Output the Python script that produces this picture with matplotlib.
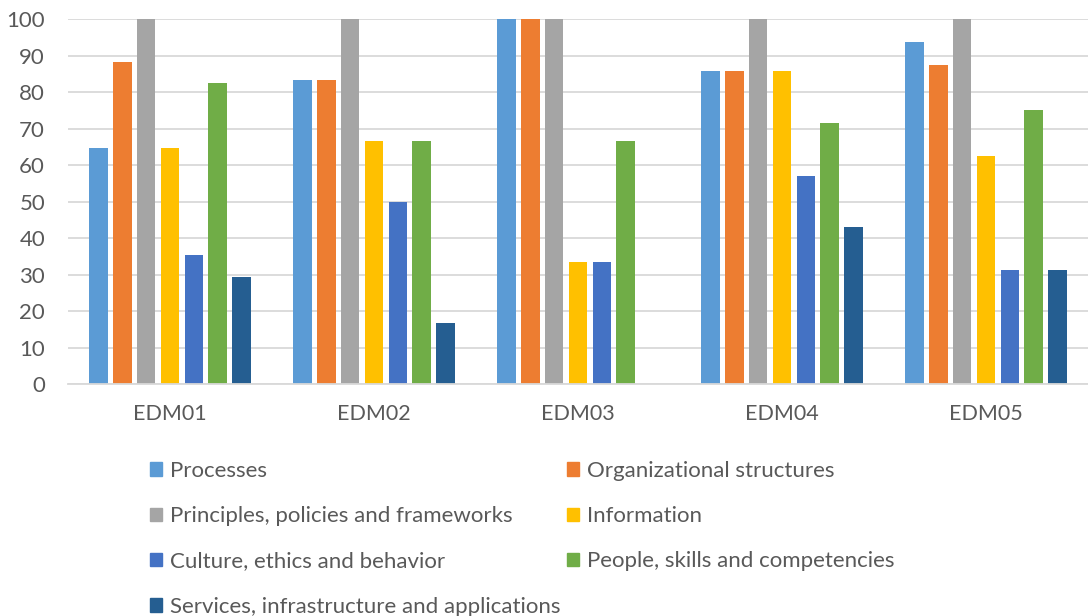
import numpy as np
import matplotlib.pyplot as plt
from matplotlib.patches import Patch

plt.rcParams['font.family'] = ['Lato', 'DejaVu Sans']

groups = ['EDM01', 'EDM02', 'EDM03', 'EDM04', 'EDM05']
series = ['Processes', 'Organizational structures',
          'Principles, policies and frameworks', 'Information',
          'Culture, ethics and behavior', 'People, skills and competencies',
          'Services, infrastructure and applications']
colors = ['#5B9BD5', '#ED7D31', '#A5A5A5', '#FFC000', '#4472C4', '#70AD47', '#255E91']

processes = [64.7, 83.3, 100, 85.7, 93.75]
org_structures = [88.2, 83.3, 100, 85.7, 87.5]
principles = [100, 100, 100, 100, 100]
information = [64.7, 66.7, 33.3, 85.7, 62.5]
culture = [35.3, 50.0, 33.3, 57.1, 31.25]
people = [82.4, 66.7, 66.7, 71.4, 75.0]
services = [29.4, 16.7, 0, 42.9, 31.25]
values = [processes, org_structures, principles, information, culture, people, services]

txt = '#595959'
fig = plt.figure(figsize=(10.88, 6.16), dpi=100)
ax = fig.add_axes([0.0625, 0.3766, 0.9375, 0.5925])

x = np.arange(len(groups))
slot = 0.1176
w = 0.093
for i, (name, vals) in enumerate(zip(series, values)):
    ax.bar(x + (i - 3) * slot, vals, w, color=colors[i], label=name, zorder=3)

ax.set_xlim(-0.5, len(groups) - 0.5)
ax.set_ylim(0, 100)
ax.set_yticks(range(0, 101, 10))
ax.set_xticks(x)
ax.set_xticklabels(groups)
ax.grid(axis='y', color='#D9D9D9', lw=1.3, zorder=0)
for s in ['left', 'right', 'top']:
    ax.spines[s].set_visible(False)
ax.spines['bottom'].set_color('#D9D9D9')
ax.spines['bottom'].set_linewidth(1.3)
ax.spines['bottom'].set_zorder(4)
ax.tick_params(length=0, colors=txt)
ax.tick_params(axis='x', pad=14.5, labelsize=15.5)
ax.tick_params(axis='y', pad=16.5, labelsize=16)

# two legend columns, filled row by row
handles = [Patch(color=c) for c in colors]
left_idx = [0, 2, 4, 6]
right_idx = [1, 3, 5]
for idx, xpos in [(left_idx, 0.138), (right_idx, 0.521)]:
    leg = fig.legend([handles[i] for i in idx], [series[i] for i in idx],
                     loc='upper left', bbox_to_anchor=(xpos, 0.252),
                     frameon=False, fontsize=16, handlelength=0.54,
                     handleheight=0.54, handletextpad=0.36,
                     labelspacing=1.14, borderaxespad=0, borderpad=0)
    for t in leg.get_texts():
        t.set_color(txt)

fig.savefig('out.png', dpi=100)
